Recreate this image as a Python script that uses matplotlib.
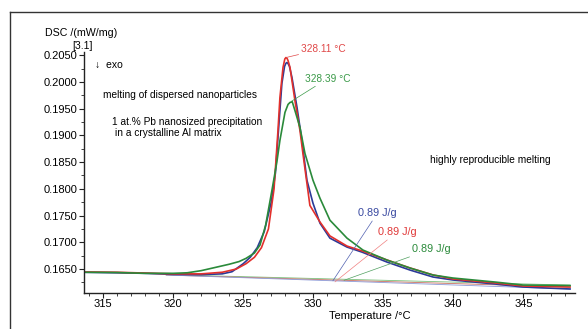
import matplotlib
matplotlib.use('Agg')
import matplotlib.pyplot as plt
from matplotlib.lines import Line2D
from matplotlib.ticker import MultipleLocator, FormatStrFormatter

plt.rcParams['font.family'] = ['Liberation Sans', 'DejaVu Sans']

# DSC curves (temperature in C, DSC in mW/mg)
blue_t = [313.6, 316.0, 318.0, 320.0, 322.0, 323.5, 324.2, 325.0, 325.5, 326.0, 326.5,
          327.0, 327.3, 327.62, 327.76, 327.95, 328.05, 328.12, 328.2, 328.3, 328.48,
          328.84, 329.19, 329.55, 329.98, 330.48, 331.19, 332.41, 333.48, 335.26, 336.91,
          338.55, 339.98, 342.98, 344.98, 348.34]
blue_v = [0.16440, 0.16430, 0.16420, 0.16400, 0.16395, 0.16410, 0.16450, 0.16600, 0.16720,
          0.16900, 0.17200, 0.17750, 0.18300, 0.19470, 0.19971, 0.20290, 0.20350, 0.20363,
          0.20345, 0.20290, 0.20083, 0.19523, 0.18907, 0.18161, 0.17732, 0.17358, 0.17078,
          0.16911, 0.16817, 0.16631, 0.16481, 0.16351, 0.16295, 0.16220, 0.16164, 0.16127]

red_t = [313.6, 316.0, 318.0, 320.0, 322.0, 323.5, 324.5, 325.2, 325.8, 326.3, 326.8,
         327.2, 327.48, 327.62, 327.84, 327.97, 328.05, 328.13, 328.2, 328.34, 328.69,
         329.05, 329.26, 329.76, 330.48, 331.19, 332.41, 333.48, 335.26, 336.91, 338.55,
         339.98, 342.98, 344.98, 348.34]
red_v = [0.16445, 0.16440, 0.16425, 0.16410, 0.16410, 0.16440, 0.16500, 0.16600, 0.16720,
         0.16900, 0.17250, 0.18000, 0.19090, 0.19710, 0.20270, 0.20430, 0.20456, 0.20440,
         0.20400, 0.20270, 0.19653, 0.19094, 0.18665, 0.17690, 0.17380, 0.17120, 0.16930,
         0.16840, 0.16670, 0.16520, 0.16390, 0.16314, 0.16240, 0.16183, 0.16164]

green_t = [313.6, 316.0, 318.0, 320.0, 321.0, 322.0, 323.0, 324.0, 324.7, 325.2, 325.8,
           326.2, 326.6, 327.05, 327.4, 327.62, 327.98, 328.2, 328.34, 328.5, 328.69,
           329.05, 329.41, 329.98, 330.48, 331.19, 332.41, 333.55, 335.26, 336.91, 338.55,
           339.98, 342.98, 344.98, 348.34]
green_v = [0.16440, 0.16435, 0.16420, 0.16420, 0.16430, 0.16470, 0.16530, 0.16590, 0.16640,
           0.16700, 0.16800, 0.16950, 0.17321, 0.17974, 0.18500, 0.18907, 0.19430, 0.19580,
           0.19616, 0.19630, 0.19467, 0.19150, 0.18660, 0.18161, 0.17825, 0.17414, 0.17078,
           0.16855, 0.16668, 0.16519, 0.16388, 0.16332, 0.16257, 0.16201, 0.16192]

# integration baselines (start, end)
base_t = [319.5, 348.3]
base_blue_v = [0.16388, 0.16127]
base_red_v = [0.16388, 0.16164]
base_green_v = [0.16395, 0.16200]

blue = '#2b3a98'
red = '#e2302c'
green = '#2a8a3a'

fig = plt.figure(figsize=(5.88, 3.29), dpi=100)
ax = fig.add_axes([84 / 588, 1 - 293 / 329, (575 - 84) / 588, (293 - 52) / 329])

# baselines first, thin and light
ax.plot(base_t, base_green_v, color='#7cc07c', lw=0.6)
ax.plot(base_t, base_red_v, color='#c87060', lw=0.6)
ax.plot(base_t, base_blue_v, color='#8c9ad8', lw=0.6)

ax.plot(blue_t, blue_v, color=blue, lw=1.2)
ax.plot(red_t, red_v, color=red, lw=1.2)
ax.plot(green_t, green_v, color=green, lw=1.2)

ax.set_xlim(313.63, 348.69)
ax.set_ylim(0.16052, 0.20560)
ax.xaxis.set_major_locator(MultipleLocator(5))
ax.xaxis.set_minor_locator(MultipleLocator(1))
ax.yaxis.set_major_locator(MultipleLocator(0.005))
ax.yaxis.set_minor_locator(MultipleLocator(0.0025))
ax.yaxis.set_major_formatter(FormatStrFormatter('%.4f'))
ax.tick_params(which='major', length=3.5, width=0.8, labelsize=8, pad=1.0, color='#222222')
ax.tick_params(which='minor', length=2, width=0.6, color='#222222')
for side in ['top', 'right']:
    ax.spines[side].set_visible(False)
for side in ['left', 'bottom']:
    ax.spines[side].set_linewidth(1.0)
    ax.spines[side].set_color('#222222')

ax.text(0.582, -0.097, 'Temperature /°C', transform=ax.transAxes, ha='center', va='center', fontsize=8)

# peak temperatures
ax.annotate('328.11 °C', xy=(328.05, 0.20456), xytext=(329.15, 0.20624), color='#e04848',
            fontsize=7.3, ha='left', va='center', annotation_clip=False,
            arrowprops=dict(arrowstyle='-', color='#e04848', lw=0.5, shrinkA=0, shrinkB=0))
ax.annotate('328.39 °C', xy=(328.45, 0.19640), xytext=(329.41, 0.20064), color='#3a9a48',
            fontsize=7.3, ha='left', va='center',
            arrowprops=dict(arrowstyle='-', color='#3a9a48', lw=0.5, shrinkA=0, shrinkB=0))

# peak areas
ax.annotate('0.89 J/g', xy=(331.4, 0.16280), xytext=(333.2, 0.17545), color='#3848a0',
            fontsize=7.8, ha='left', va='center',
            arrowprops=dict(arrowstyle='-', color='#5060b0', lw=0.5, shrinkA=0, shrinkB=0))
ax.annotate('0.89 J/g', xy=(331.55, 0.16260), xytext=(334.6, 0.17190), color='#e03838',
            fontsize=7.8, ha='left', va='center',
            arrowprops=dict(arrowstyle='-', color='#f08080', lw=0.5, shrinkA=0, shrinkB=0))
ax.annotate('0.89 J/g', xy=(332.2, 0.16290), xytext=(337.05, 0.16873), color='#2a8a3a',
            fontsize=7.8, ha='left', va='center',
            arrowprops=dict(arrowstyle='-', color='#50a060', lw=0.5, shrinkA=0, shrinkB=0))

# notes
ax.text(314.42, 0.2031, '↓  exo', fontsize=7.5, va='center')
ax.text(314.99, 0.19747, 'melting of dispersed nanoparticles', fontsize=7.3, va='center')
ax.text(315.62, 0.19243, '1 at.% Pb nanosized precipitation', fontsize=7.3, va='center')
ax.text(315.84, 0.19038, 'in a crystalline Al matrix', fontsize=7.3, va='center')
ax.text(338.34, 0.18534, 'highly reproducible melting', fontsize=7.3, va='center')

# y label, written in figure pixels like the instrument export
fig.text(45 / 588, 1 - 33 / 329, 'DSC /(mW/mg)', fontsize=7.7, va='center')
fig.text(72 / 588, 1 - 46 / 329, '[3.1]', fontsize=7.5, va='center')

# outer frame, cut at right and bottom
fig.add_artist(Line2D([10 / 588, 10 / 588], [0, 1 - 12 / 329], color='#333333', lw=1.0))
fig.add_artist(Line2D([10 / 588, 1], [1 - 12 / 329, 1 - 12 / 329], color='#333333', lw=1.0))

fig.savefig('out.png', dpi=100)
